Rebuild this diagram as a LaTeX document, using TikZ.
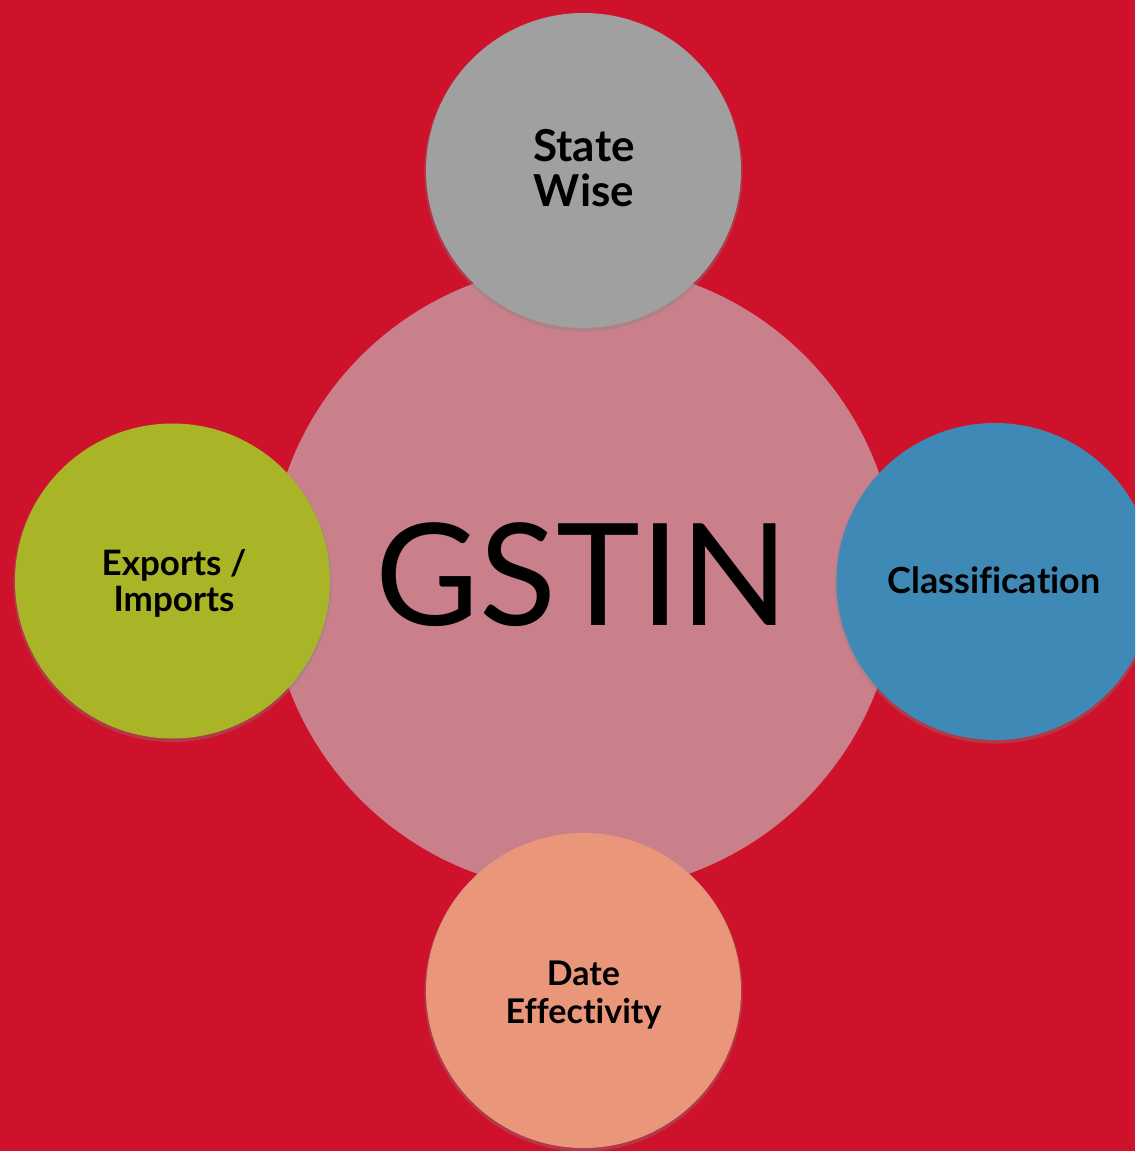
\documentclass[tikz,border=0pt]{standalone}
\usepackage{fontspec}
\setmainfont{Lato}[Ligatures=NoCommon]
\usetikzlibrary{shadows}
\definecolor{bgred}{HTML}{CF122B}
\definecolor{hubpink}{HTML}{C9808A}
\definecolor{satgray}{HTML}{A0A0A0}
\definecolor{satgreen}{HTML}{A9B527}
\definecolor{satblue}{HTML}{3F89B7}
\definecolor{satsalmon}{HTML}{EA967A}
\tikzset{
  hub/.style={circle, fill=hubpink, draw=none, inner sep=0pt, minimum size=628pt},
  sat/.style={circle, draw=none, inner sep=0pt, minimum size=315pt,
    drop shadow={opacity=0.35, shadow xshift=0pt, shadow yshift=-2pt, shadow scale=1.01}},
  lbl/.style={font=\bfseries, text=black, align=center, inner sep=0pt, anchor=base}
}
\begin{document}
\begin{tikzpicture}[x=1pt,y=-1pt]
  \fill[bgred] (0,0) rectangle (1135,1151);
  \useasboundingbox (0,0) rectangle (1135,1151);
  \clip (0,0) rectangle (1135,1151);
  \node[hub] (hub) at (583,578) {};
  \node[font=\fontsize{142}{150}\selectfont, text=black, inner sep=0pt, anchor=base] (gstin) at (582,625) {GSTIN};
  \node[sat, fill=satgray] (state) at (583.5,170.5) {};
  \node[sat, fill=satgreen] (exim) at (172.5,581) {};
  \node[sat, fill=satblue, minimum size=317pt] (cls) at (995,581.5) {};
  \node[sat, fill=satsalmon] (date) at (583.5,990.5) {};
  \node[lbl, font=\bfseries\fontsize{44}{45}\selectfont] (statet) at (584,206) {State\\Wise};
  \node[lbl, font=\bfseries\fontsize{36}{40}\selectfont] (clst) at (994,593) {Classification};
  \node[lbl, font=\bfseries\fontsize{35}{36}\selectfont] (eximt) at (174,611) {Exports /\\Imports};
  \node[lbl, font=\bfseries\fontsize{34}{38}\selectfont] (datet) at (583.5,1023) {Date\\Effectivity};
\end{tikzpicture}
\end{document}
